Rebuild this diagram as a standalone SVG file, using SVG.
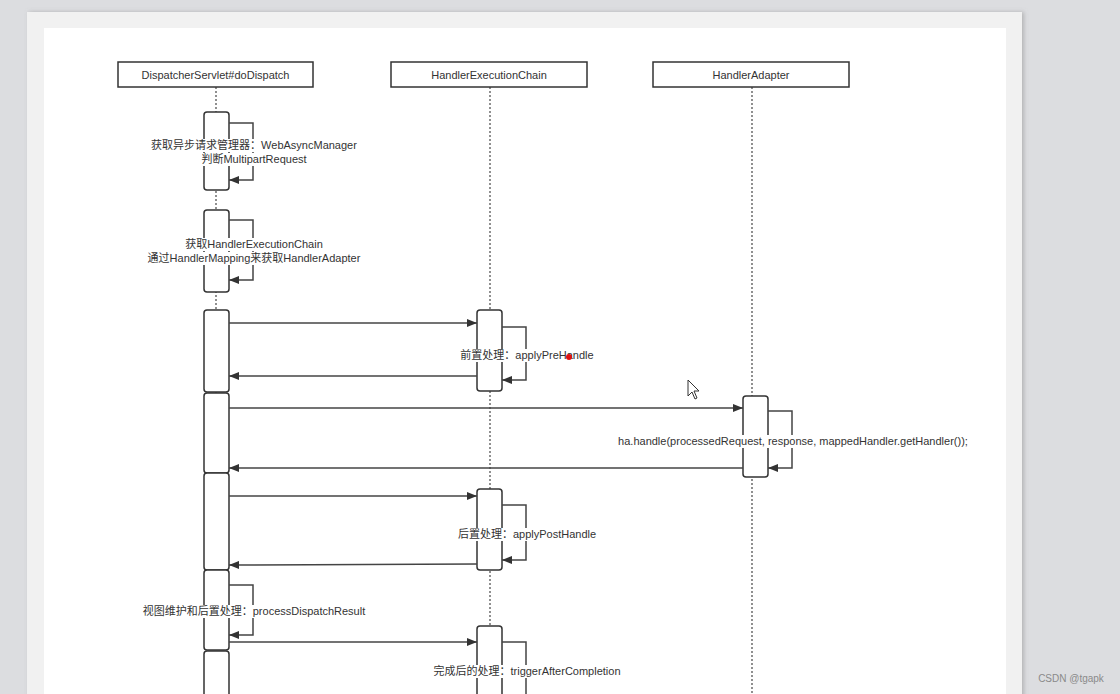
<svg xmlns="http://www.w3.org/2000/svg" width="1120" height="694" viewBox="0 0 1120 694">
<style>
.t{font-family:"Liberation Sans","Noto Sans CJK SC",sans-serif;font-size:11px;fill:#333;text-anchor:middle}
.bg{fill:#fff}
.hd{fill:#fff;stroke:#333;stroke-width:1.5}
.life{stroke:#555;stroke-width:1.3;stroke-dasharray:2 2;fill:none}
.act{fill:#fff;stroke:#333;stroke-width:1.5}
.msg{stroke:#444;stroke-width:1.5;fill:none}
</style>
<defs>
<marker id="ah" viewBox="0 0 10 8" refX="10" refY="4" markerWidth="11" markerHeight="8" markerUnits="userSpaceOnUse" orient="auto">
<path d="M0,0 L10,4 L0,8 Z" fill="#333"/>
</marker>
<filter id="sh" x="-5%" y="-5%" width="110%" height="110%"><feDropShadow dx="2" dy="0" stdDeviation="2" flood-color="#888" flood-opacity="0.5"/></filter>
</defs>
<rect x="0" y="0" width="1120" height="694" fill="#dcdde0"/>
<rect x="27" y="12" width="995" height="690" fill="#f1f1f1" filter="url(#sh)"/>
<rect x="44" y="28" width="962" height="670" fill="#fff"/>

<g id="lifelines">
<line class="life" x1="216" y1="87" x2="216" y2="694"/>
<line class="life" x1="490" y1="87" x2="490" y2="694"/>
<line class="life" x1="752" y1="87" x2="752" y2="694"/>
</g>

<g id="node-dispatcher"><rect class="hd" x="118" y="62" width="195" height="25"/><text class="t" x="215.5" y="78.5">DispatcherServlet#doDispatch</text></g>
<g id="node-chain"><rect class="hd" x="391" y="62" width="196" height="25"/><text class="t" x="489" y="78.5">HandlerExecutionChain</text></g>
<g id="node-adapter"><rect class="hd" x="653" y="62" width="196" height="25"/><text class="t" x="751" y="78.5">HandlerAdapter</text></g>

<g id="activations">
<rect class="act" x="204" y="112" width="25" height="78" rx="3"/>
<rect class="act" x="204" y="210" width="25" height="82" rx="3"/>
<rect class="act" x="204" y="310" width="25" height="82" rx="3"/>
<rect class="act" x="204" y="393" width="25" height="80" rx="3"/>
<rect class="act" x="204" y="473" width="25" height="97" rx="3"/>
<rect class="act" x="204" y="570" width="25" height="80" rx="3"/>
<rect class="act" x="204" y="651" width="25" height="60" rx="3"/>
<rect class="act" x="477" y="310" width="25" height="81" rx="3"/>
<rect class="act" x="477" y="489" width="25" height="81" rx="3"/>
<rect class="act" x="477" y="626" width="25" height="80" rx="3"/>
<rect class="act" x="743" y="396" width="25" height="81" rx="3"/>
</g>

<g id="connectors">
<path class="msg" d="M229,123 H253 V180 H229" marker-end="url(#ah)"/>
<path class="msg" d="M229,220 H253 V280 H229" marker-end="url(#ah)"/>
<line class="msg" x1="229" y1="323" x2="477" y2="323" marker-end="url(#ah)"/>
<path class="msg" d="M502,327 H526 V380 H502" marker-end="url(#ah)"/>
<line class="msg" x1="477" y1="376" x2="229" y2="376" marker-end="url(#ah)"/>
<line class="msg" x1="229" y1="408" x2="743" y2="408" marker-end="url(#ah)"/>
<path class="msg" d="M768,411 H792 V468 H768" marker-end="url(#ah)"/>
<line class="msg" x1="743" y1="468" x2="229" y2="468" marker-end="url(#ah)"/>
<line class="msg" x1="229" y1="496" x2="477" y2="496" marker-end="url(#ah)"/>
<path class="msg" d="M502,505 H526 V560 H502" marker-end="url(#ah)"/>
<line class="msg" x1="477" y1="564" x2="229" y2="565" marker-end="url(#ah)"/>
<path class="msg" d="M229,585 H253 V635 H229" marker-end="url(#ah)"/>
<line class="msg" x1="229" y1="642" x2="477" y2="642" marker-end="url(#ah)"/>
<path class="msg" d="M502,642 H526 V700"/>
</g>

<g id="labels">
<rect class="bg" x="150" y="139" width="208" height="13"/>
<rect class="bg" x="199" y="153" width="110" height="13"/>
<text class="t" x="254" y="149">获取异步请求管理器：WebAsyncManager</text>
<text class="t" x="254" y="163">判断MultipartRequest</text>
<rect class="bg" x="184" y="238" width="141" height="13"/>
<rect class="bg" x="147" y="252" width="215" height="13"/>
<text class="t" x="254" y="248">获取HandlerExecutionChain</text>
<text class="t" x="254" y="262">通过HandlerMapping来获取HandlerAdapter</text>
<rect class="bg" x="459" y="349" width="137" height="13"/>
<text class="t" x="527" y="359">前置处理：applyPreHandle</text>
<rect class="bg" x="616" y="435" width="354" height="13"/>
<text class="t" x="793" y="445">ha.handle(processedRequest, response, mappedHandler.getHandler());</text>
<rect class="bg" x="457" y="528" width="141" height="13"/>
<text class="t" x="527" y="538">后置处理：applyPostHandle</text>
<rect class="bg" x="142" y="605" width="225" height="13"/>
<text class="t" x="254" y="615">视图维护和后置处理：processDispatchResult</text>
<rect class="bg" x="432" y="665" width="191" height="13"/>
<text class="t" x="527" y="675">完成后的处理：triggerAfterCompletion</text>
</g>

<circle cx="569" cy="357" r="3" fill="#e01010"/>
<path d="M688,380 L688,396 L692,392 L695,399 L697,398 L694,391 L699,391 Z" fill="#fff" stroke="#333" stroke-width="1"/>
<text x="1071" y="682" style="font-family:'Liberation Sans',sans-serif;font-size:10px;fill:#8a8a8a;text-anchor:middle">CSDN @tgapk</text>
</svg>
